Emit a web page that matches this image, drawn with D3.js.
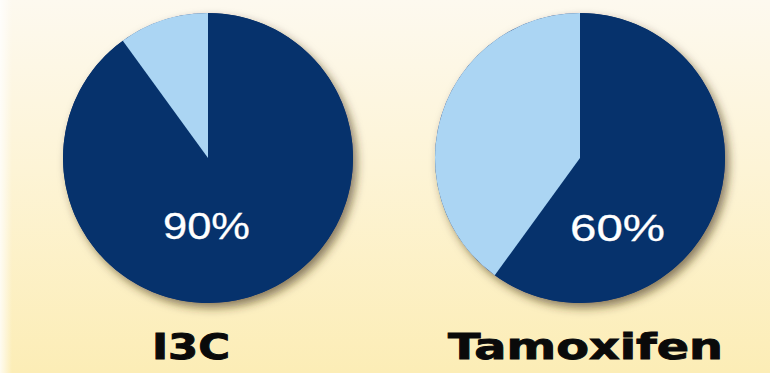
<!DOCTYPE html>
<html>
<head>
<meta charset="utf-8">
<script src="https://cdn.jsdelivr.net/npm/d3@7"></script>
<style>
  html, body { margin: 0; padding: 0; overflow: hidden; }
  svg { display: block; }
</style>
</head>
<body>
<div id="chart"></div>
<script>
const width = 770;
const height = 373;

// data
const drugs = ['I3C', 'Tamoxifen'];
const effective = [90, 60];      // dark slice, percent
const labels = ['90%', '60%'];
const sliceKeys = ['effective', 'rest'];

const colors = d3.scaleOrdinal()
  .domain(sliceKeys)
  .range(['#06326c', '#abd5f3']);

const xScale = d3.scalePoint()
  .domain(drugs)
  .range([208, 580]);

const radius = 145;
const cy = 158;

const svg = d3.select('#chart')
  .append('svg')
  .attr('width', width)
  .attr('height', height);

const defs = svg.append('defs');

const bg = defs.append('linearGradient')
  .attr('id', 'bg')
  .attr('x1', 0).attr('y1', 0)
  .attr('x2', 0).attr('y2', 1);
bg.append('stop').attr('offset', '0%').attr('stop-color', '#fdf9ef');
bg.append('stop').attr('offset', '45%').attr('stop-color', '#fdf4d6');
bg.append('stop').attr('offset', '100%').attr('stop-color', '#fcedb6');

const edge = defs.append('linearGradient')
  .attr('id', 'edge')
  .attr('x1', 0).attr('y1', 0)
  .attr('x2', 1).attr('y2', 0);
edge.append('stop').attr('offset', '0%').attr('stop-color', '#ffffff').attr('stop-opacity', 0.8);
edge.append('stop').attr('offset', '100%').attr('stop-color', '#ffffff').attr('stop-opacity', 0);

const shadow = defs.append('filter')
  .attr('id', 'shadow')
  .attr('x', '-20%').attr('y', '-20%')
  .attr('width', '140%').attr('height', '140%');
shadow.append('feDropShadow')
  .attr('dx', 4)
  .attr('dy', 5)
  .attr('stdDeviation', 5)
  .attr('flood-color', '#3a2e10')
  .attr('flood-opacity', 0.6);

svg.append('rect')
  .attr('width', width)
  .attr('height', height)
  .attr('fill', 'url(#bg)');

svg.append('rect')
  .attr('width', 12)
  .attr('height', height)
  .attr('fill', 'url(#edge)');

const pie = d3.pie()
  .sort(null)
  .value(d => d.value);

const arc = d3.arc()
  .innerRadius(0)
  .outerRadius(radius);

drugs.forEach((drug, i) => {
  const slices = pie([
    { key: 'effective', value: effective[i] },
    { key: 'rest', value: 100 - effective[i] }
  ]);

  const g = svg.append('g')
    .attr('transform', `translate(${xScale(drug)}, ${cy})`);

  g.append('circle')
    .attr('r', radius)
    .attr('fill', colors('effective'))
    .attr('filter', 'url(#shadow)');

  g.selectAll('path')
    .data(slices)
    .join('path')
    .attr('d', arc)
    .attr('fill', d => colors(d.data.key));
});

// percent labels inside pies
const pctX = [206.5, 617.5];
const pctY = [239, 241];
svg.selectAll('.pct')
  .data(labels)
  .join('text')
  .attr('class', 'pct')
  .attr('x', (d, i) => pctX[i])
  .attr('y', (d, i) => pctY[i])
  .attr('text-anchor', 'middle')
  .attr('font-family', 'Liberation Sans, Arial, sans-serif')
  .attr('font-size', 37)
  .attr('fill', '#ffffff')
  .attr('stroke', '#ffffff')
  .attr('stroke-width', 0.3)
  .attr('textLength', (d, i) => i === 0 ? 87 : 95)
  .attr('lengthAdjust', 'spacingAndGlyphs')
  .text(d => d);

// names below
const nameX = [191, 585.5];
const nameW = [78, 275];
svg.selectAll('.name')
  .data(drugs)
  .join('text')
  .attr('class', 'name')
  .attr('x', (d, i) => nameX[i])
  .attr('y', 359)
  .attr('text-anchor', 'middle')
  .attr('font-family', 'DejaVu Sans, sans-serif')
  .attr('font-weight', 'bold')
  .attr('font-size', 35)
  .attr('fill', '#0a0a0a')
  .attr('stroke', '#0a0a0a')
  .attr('stroke-width', 0.9)
  .attr('textLength', (d, i) => nameW[i])
  .attr('lengthAdjust', 'spacingAndGlyphs')
  .text(d => d);
</script>
</body>
</html>
